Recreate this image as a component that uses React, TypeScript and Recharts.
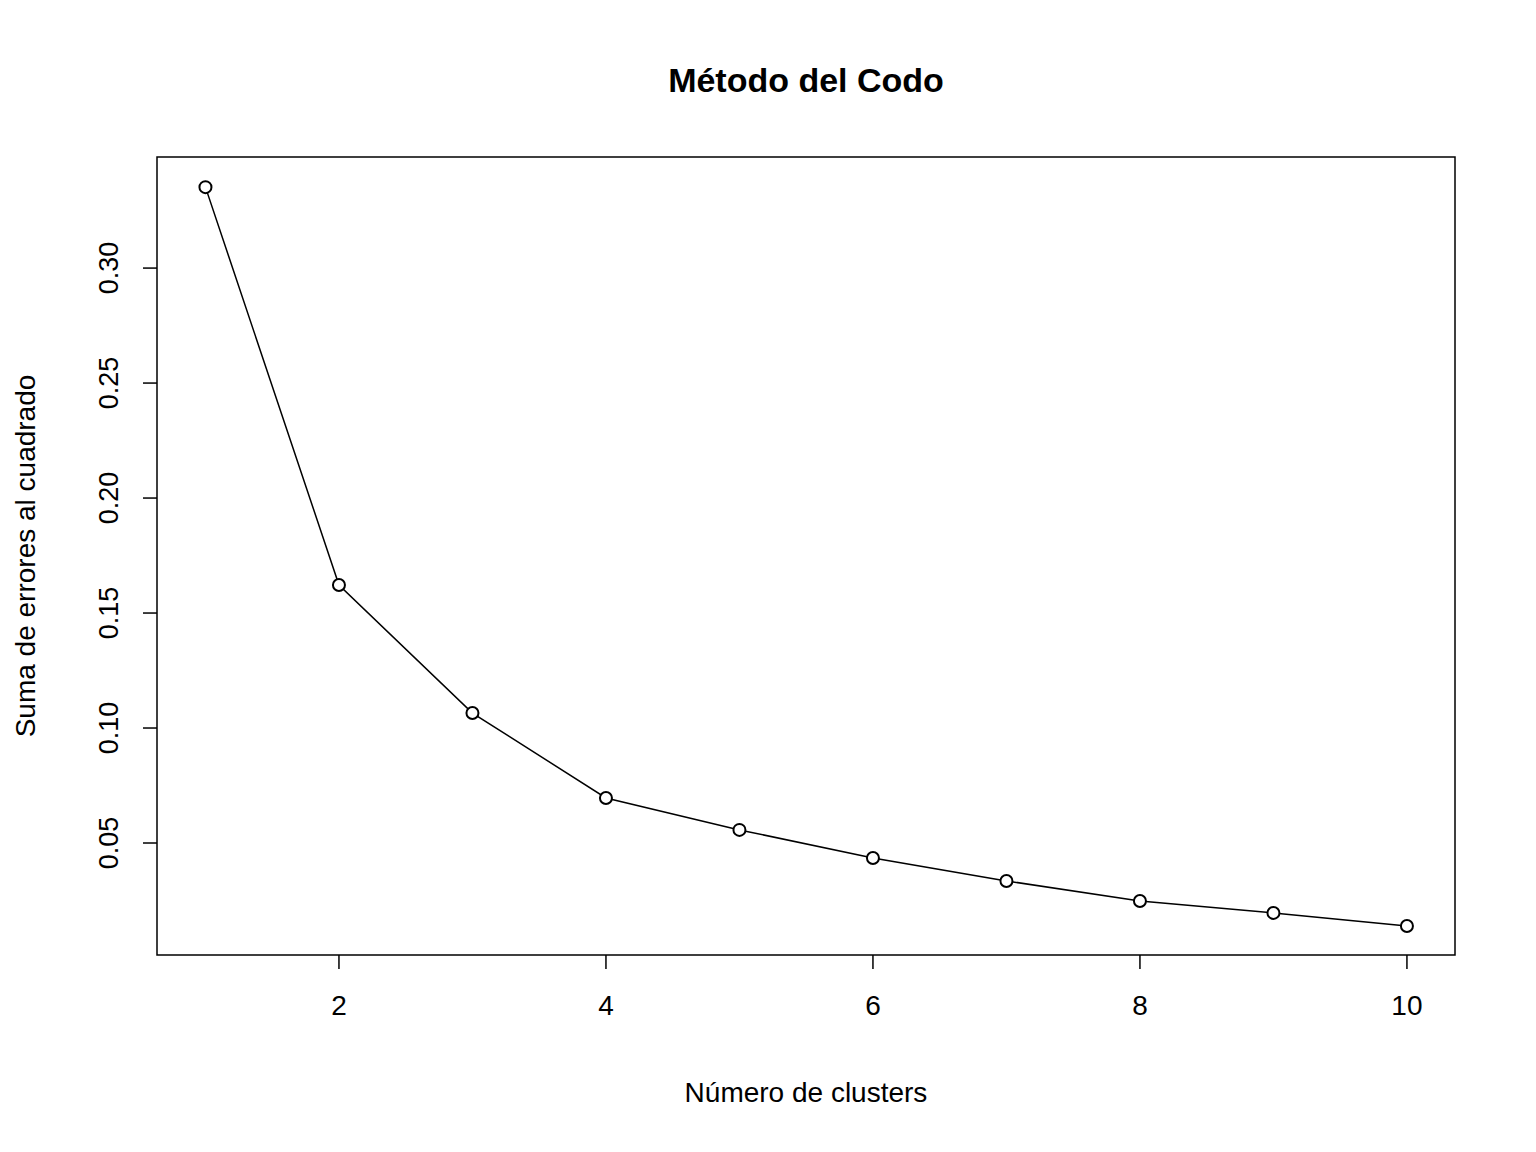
import { LineChart, Line, XAxis, YAxis, ReferenceArea } from 'recharts';

const clusters = [1, 2, 3, 4, 5, 6, 7, 8, 9, 10];
const sse = [0.3352, 0.1622, 0.1065, 0.0696, 0.0557, 0.0435, 0.0335, 0.0248, 0.0196, 0.0139];
const xTicks = [2, 4, 6, 8, 10];
const yTicks = [0.05, 0.1, 0.15, 0.2, 0.25, 0.3];

const data = clusters.map((k, i) => ({ k, sse: sse[i] }));
const font = '"Liberation Sans", Arial, sans-serif';

const YTick = (props: any) => {
  const { x, y, payload } = props;
  return (
    <g>
      <line x1={x - 14} x2={x} y1={y} y2={y} stroke="#000" strokeWidth={1.5} />
      <text x={x - 48} y={y} transform={`rotate(-90 ${x - 48} ${y})`} textAnchor="middle"
        dominantBaseline="central" fontSize={27} fontFamily={font} fill="#000">
        {payload.value.toFixed(2)}
      </text>
    </g>
  );
};

const XTick = (props: any) => {
  const { x, y, payload } = props;
  return (
    <g>
      <line x1={x} x2={x} y1={y} y2={y + 14} stroke="#000" strokeWidth={1.5} />
      <text x={x} y={y + 60} textAnchor="middle" fontSize={28} fontFamily={font} fill="#000">
        {payload.value}
      </text>
    </g>
  );
};

export default function App() {
  return (
    <div style={{ position: 'absolute', left: 0, top: 0, width: 1536, height: 1152, background: '#fff' }}>
      <LineChart width={1536} height={1152} data={data} margin={{ top: 157, right: 81, bottom: 137, left: 77 }}>
        <text x={806} y={92} textAnchor="middle" fontSize={34} fontWeight="bold" fontFamily={font} fill="#000">
          Método del Codo
        </text>
        <text x={806} y={1102} textAnchor="middle" fontSize={28} fontFamily={font} fill="#000">
          Número de clusters
        </text>
        <text x={35} y={556} transform="rotate(-90 35 556)" textAnchor="middle" fontSize={28} fontFamily={font} fill="#000">
          Suma de errores al cuadrado
        </text>
        <XAxis type="number" dataKey="k" domain={[0.637, 10.36]} ticks={xTicks} allowDataOverflow
          height={60} axisLine={false} tickLine={false} tickSize={0} tickMargin={0} tick={<XTick />} />
        <YAxis type="number" domain={[0.0013, 0.3483]} ticks={yTicks} allowDataOverflow
          width={80} axisLine={false} tickLine={false} tickSize={0} tickMargin={0} tick={<YTick />} />
        <ReferenceArea x1={0.637} x2={10.36} y1={0.0013} y2={0.3483} fill="none" stroke="#000" strokeWidth={1.5} />
        <Line type="linear" dataKey="sse" stroke="#000" strokeWidth={1.5} isAnimationActive={false}
          dot={{ r: 6, fill: '#fff', stroke: '#000', strokeWidth: 2 }} />
      </LineChart>
    </div>
  );
}
